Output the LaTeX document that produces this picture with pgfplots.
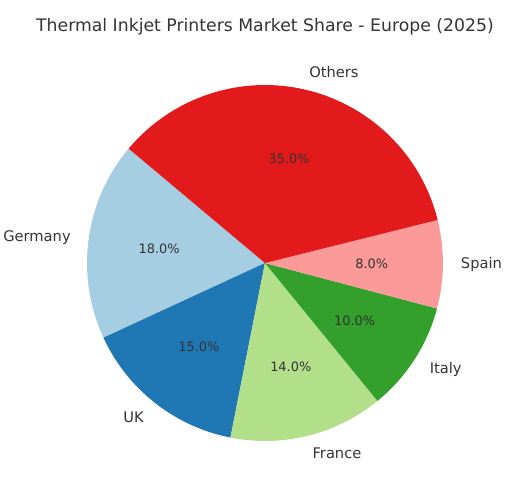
\documentclass[border=0pt]{standalone}
\usepackage{fontspec}
\setmainfont{DejaVu Sans}
\usepackage{pgfplots}
\usepackage{pgfplotstable}
\pgfplotsset{compat=1.18}
\definecolor{txt}{HTML}{333333}
\definecolor{pGermany}{HTML}{A6CEE3}
\definecolor{pUK}{HTML}{1F78B4}
\definecolor{pFrance}{HTML}{B2DF8A}
\definecolor{pItaly}{HTML}{33A02C}
\definecolor{pSpain}{HTML}{FB9A99}
\definecolor{pOthers}{HTML}{E31A1C}

\pgfplotstableread{
name    pct col
Germany 18  pGermany
UK      15  pUK
France  14  pFrance
Italy   10  pItaly
Spain   8   pSpain
Others  35  pOthers
}\piedata

\begin{document}
\begin{tikzpicture}
\begin{axis}[
  x=133.5pt, y=133.5pt,
  xmin=-1.489, xmax=1.478, ymin=-1.326, ymax=1.478,
  hide axis, clip=false,
]
\path (axis cs:-1.489,-1.326) rectangle (axis cs:1.478,1.478);
\node[font=\fontsize{12.95}{15}\selectfont, text=txt] at (axis cs:0,1.326) {Thermal Inkjet Printers Market Share - Europe (2025)};
\pgfplotstablegetrowsof{\piedata}
\pgfmathtruncatemacro\nrows{\pgfplotsretval-1}
\gdef\angstart{140}
\pgfplotsforeachungrouped \i in {0,...,\nrows}{%
  \pgfplotstablegetelem{\i}{pct}\of\piedata \let\pct\pgfplotsretval
  \pgfplotstablegetelem{\i}{name}\of\piedata \let\nm\pgfplotsretval
  \pgfplotstablegetelem{\i}{col}\of\piedata \let\cl\pgfplotsretval
  \pgfmathsetmacro\angend{\angstart+3.6*\pct}
  \pgfmathsetmacro\angmid{(\angstart+\angend)/2}
  \pgfmathsetmacro\sx{cos(\angstart)}
  \pgfmathsetmacro\sy{sin(\angstart)}
  \pgfmathsetmacro\lx{1.1*cos(\angmid)}
  \pgfmathsetmacro\ly{1.1*sin(\angmid)}
  \pgfmathsetmacro\px{0.6*cos(\angmid)}
  \pgfmathsetmacro\py{0.6*sin(\angmid)}
  \pgfmathtruncatemacro\side{cos(\angmid)>0}
  \ifnum\side=1 \def\anc{west}\else\def\anc{east}\fi
  \edef\temp{%
    \noexpand\fill[\cl] (axis cs:0,0) -- (axis cs:\sx,\sy)
      arc[start angle=\angstart, end angle=\angend, radius=133.5pt] -- cycle;
    \noexpand\node[anchor=\anc, inner sep=0pt, text=txt, font=\noexpand\fontsize{11}{13}\noexpand\selectfont]
      at (axis cs:\lx,\ly) {\nm};
    \noexpand\node[inner sep=0pt, text=txt, font=\noexpand\fontsize{9.7}{11}\noexpand\selectfont]
      at (axis cs:\px,\py) {\pct.0\noexpand\%};
  }%
  \temp
  \global\let\angstart\angend
}
\end{axis}
\end{tikzpicture}
\end{document}
